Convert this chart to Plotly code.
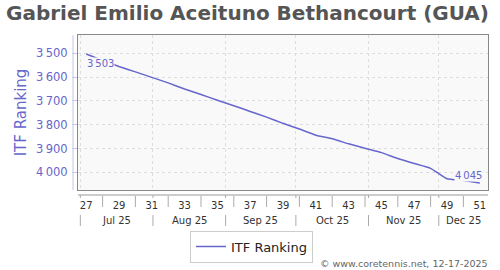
import datetime as dt
import plotly.graph_objects as go

# ---- data ----
weeks = list(range(27, 52))
itf_ranking = [3503, 3530, 3555, 3578, 3601, 3624, 3650, 3673, 3697, 3720,
               3744, 3768, 3794, 3818, 3844, 3859, 3880, 3899, 3917, 3942,
               3963, 3983, 4027, 4034, 4045]
week_labels = [str(w) for w in weeks if w % 2 == 1]
week_label_vals = [w for w in weeks if w % 2 == 1]
sep_weeks = [w for w in weeks if w % 2 == 0]
month_starts = ["2025-07-01", "2025-08-01", "2025-09-01", "2025-10-01", "2025-11-01", "2025-12-01"]
y_ticks = [3500, 3600, 3700, 3800, 3900, 4000]

X_RANGE = [26.5, 51.5]
LINE_COLOR = "#6666cc"
FONT = "DejaVu Sans"
GRID_DASH = "3px,3px"


def week_pos(date_str):
    d = dt.date.fromisoformat(date_str)
    iso = d.isocalendar()
    return iso[1] + d.weekday() / 7 - 0.5


month_pos = [week_pos(m) for m in month_starts]
month_names = [dt.date.fromisoformat(m).strftime("%b %y") for m in month_starts]


def fmt(v):
    return f"{v:,}".replace(",", "\u2009")


fig = go.Figure()
fig.add_trace(go.Scatter(
    x=weeks, y=itf_ranking, mode="lines", name="ITF Ranking",
    line=dict(color=LINE_COLOR, width=1.5, shape="spline", smoothing=0.4),
    hoverinfo="x+y",
))

shapes = []
# y-axis offset line
shapes.append(dict(type="line", xref="paper", yref="paper", xsizemode="pixel", xanchor=0,
                   x0=-5, x1=-5, y0=0, y1=1, line=dict(color="#c4c4ec", width=1)))
# x-axis offset line
shapes.append(dict(type="line", xref="paper", yref="paper", ysizemode="pixel", yanchor=0,
                   x0=0, x1=1, y0=-5, y1=-5, line=dict(color="#999999", width=1)))
for w in sep_weeks:
    shapes.append(dict(type="line", xref="x", yref="paper", ysizemode="pixel", yanchor=0,
                       x0=w, x1=w, y0=-6, y1=-17, line=dict(color="#aaaaaa", width=1)))
for p in month_pos:
    shapes.append(dict(type="line", xref="x", yref="paper", ysizemode="pixel", yanchor=0,
                       x0=p, x1=p, y0=-5, y1=-8, line=dict(color="#aaaaaa", width=1)))
    shapes.append(dict(type="line", xref="x", yref="paper", ysizemode="pixel", yanchor=0,
                       x0=p, x1=p, y0=-25, y1=-36, line=dict(color="#aaaaaa", width=1)))

annotations = []
bounds = month_pos[1:] + [X_RANGE[1]]
for name, a, b in zip(month_names, month_pos, bounds):
    annotations.append(dict(x=(a + b) / 2, y=0, xref="x", yref="paper", yshift=-30,
                            text=name, showarrow=False, yanchor="middle",
                            font=dict(family=FONT, size=10, color="#333333")))
# data labels
annotations.append(dict(x=weeks[0], y=itf_ranking[0], xref="x", yref="y",
                        text=fmt(itf_ranking[0]), showarrow=False, xshift=14, yshift=-9.5,
                        bgcolor="#f9f9f9", borderpad=0,
                        font=dict(family=FONT, size=10, color=LINE_COLOR)))
annotations.append(dict(x=weeks[-1], y=itf_ranking[-1], xref="x", yref="y",
                        text=fmt(itf_ranking[-1]), showarrow=False, xshift=-11.5, yshift=7.5,
                        bgcolor="#f9f9f9", borderpad=0,
                        font=dict(family=FONT, size=10, color=LINE_COLOR)))
# copyright
annotations.append(dict(x=1, y=0, xref="paper", yref="paper", xanchor="right", yanchor="middle",
                        xshift=2, yshift=-73, showarrow=False,
                        text="\u00a9 www.coretennis.net, 12-17-2025",
                        font=dict(family=FONT, size=9.5, color="#666666")))

fig.update_layout(
    width=500, height=270,
    margin=dict(l=78, r=12, t=35, b=80),
    paper_bgcolor="white", plot_bgcolor="#f9f9f9",
    separators=".\u2009",
    font=dict(family=FONT, color="#333333"),
    title=dict(text="Gabriel Emilio Aceituno Bethancourt (GUA)", x=6 / 500, xanchor="left",
               xref="container", yref="container", y=1 - 13 / 270, yanchor="middle",
               font=dict(family=FONT, size=20, weight="bold", color="#555555")),
    showlegend=True,
    legend=dict(orientation="h", xref="container", yref="container", x=0.503, y=1 - 246.5 / 270,
                xanchor="center", yanchor="middle", bordercolor="#cccccc", borderwidth=1,
                bgcolor="white", font=dict(family=FONT, size=13, color="#222222")),
    shapes=shapes,
    annotations=annotations,
    xaxis=dict(range=X_RANGE, tickmode="array", tickvals=week_label_vals, ticktext=week_labels,
               ticks="", showgrid=False, zeroline=False, showline=True, mirror=True,
               linecolor="#888888", linewidth=1, ticklabelstandoff=6,
               tickfont=dict(family=FONT, size=10, color="#333333"),
               minor=dict(tickmode="array", tickvals=month_pos, showgrid=True, gridcolor="#dddddd",
                          griddash=GRID_DASH, gridwidth=1, ticks="")),
    yaxis=dict(range=[4074, 3423], tickmode="array", tickvals=y_ticks, tickformat=",d",
               ticks="outside", ticklen=5, tickcolor="#c4c4ec", showgrid=True, gridcolor="#dddddd",
               griddash=GRID_DASH, zeroline=False, showline=True, mirror=True, linecolor="#888888",
               linewidth=1, ticklabelstandoff=2,
               tickfont=dict(family=FONT, size=11.5, color=LINE_COLOR),
               title=dict(text="ITF Ranking", standoff=5,
                          font=dict(family=FONT, size=15, color=LINE_COLOR))),
)

fig.write_html("out.html")
